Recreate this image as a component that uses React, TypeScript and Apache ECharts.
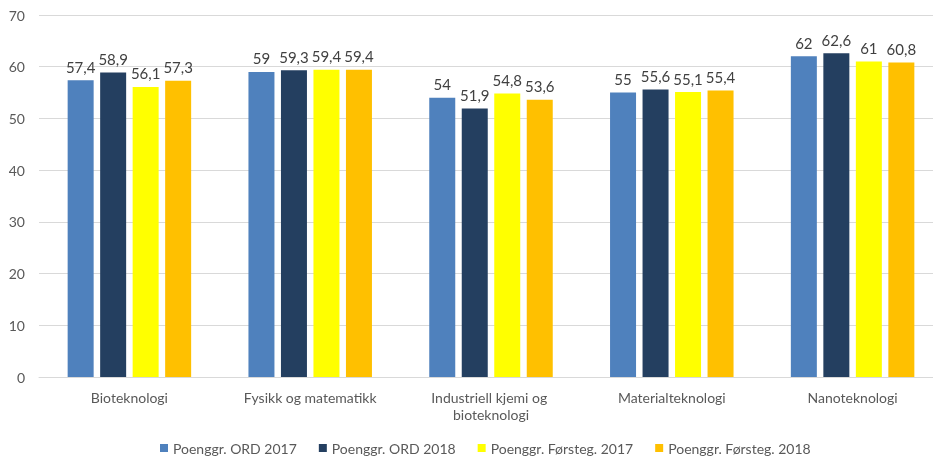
import React, { useEffect, useRef } from "react";
import * as echarts from "echarts";

const categories = ["Bioteknologi", "Fysikk og matematikk", "Industriell kjemi og bioteknologi", "Materialteknologi", "Nanoteknologi"];
const seriesNames = ["Poenggr. ORD 2017", "Poenggr. ORD 2018", "Poenggr. Førsteg. 2017", "Poenggr. Førsteg. 2018"];
const ord2017 = [57.4, 59, 54, 55, 62];
const ord2018 = [58.9, 59.3, 51.9, 55.6, 62.6];
const forst2017 = [56.1, 59.4, 54.8, 55.1, 61];
const forst2018 = [57.3, 59.4, 53.6, 55.4, 60.8];
const yTicks = { min: 0, max: 70, interval: 10 };
const colors = ["#4F81BD", "#243F60", "#FFFF00", "#FFC000"];

export default function App() {
  const ref = useRef<HTMLDivElement>(null);
  useEffect(() => {
    if (!ref.current) return;
    const chart = echarts.init(ref.current, null, { renderer: "svg" });
    const font = "Lato, 'Open Sans', sans-serif";
    const data = [ord2017, ord2018, forst2017, forst2018];
    chart.setOption({
      animation: false,
      textStyle: { fontFamily: font },
      grid: { left: 39, right: 0, top: 15, bottom: 82 },
      legend: {
        top: 436,
        left: 155,
        itemWidth: 8,
        itemHeight: 8,
        itemGap: 22,
        icon: "rect",
        textStyle: { color: "#595959", fontSize: 14, fontFamily: font },
        data: seriesNames,
      },
      xAxis: {
        type: "category",
        data: categories,
        axisLine: { lineStyle: { color: "#D9D9D9" } },
        axisTick: { show: false },
        axisLabel: {
          color: "#595959",
          fontSize: 14,
          fontFamily: font,
          margin: 12,
          width: 150,
          overflow: "break",
          interval: 0,
          lineHeight: 17,
        },
      },
      yAxis: {
        type: "value",
        min: yTicks.min,
        max: yTicks.max,
        interval: yTicks.interval,
        axisLine: { show: false },
        axisTick: { show: false },
        splitLine: { lineStyle: { color: "#D9D9D9" } },
        axisLabel: { color: "#595959", fontSize: 14, fontFamily: font, margin: 14 },
      },
      series: seriesNames.map((name, i) => ({
        name,
        type: "bar",
        data: data[i],
        barWidth: 26,
        barGap: "25%",
        itemStyle: { color: colors[i] },
        label: {
          show: true,
          position: "top",
          distance: 6,
          color: "#404040",
          fontSize: 15,
          fontFamily: font,
          formatter: (p: any) => String(p.value).replace(".", ","),
        },
      })),
    });
    return () => chart.dispose();
  }, []);
  return <div ref={ref} style={{ position: "fixed", left: 0, top: 0, width: 943, height: 459 }} />;
}
